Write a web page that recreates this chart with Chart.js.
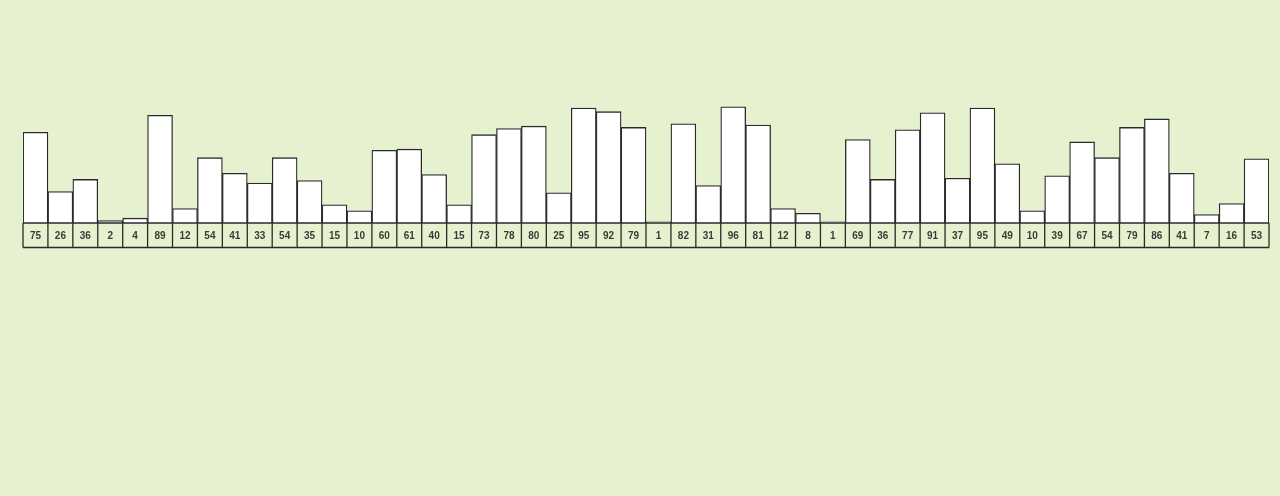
<!DOCTYPE html>
<html>
<head>
<meta charset="utf-8">
<style>
  html, body { margin: 0; padding: 0; background: #e6f1d0; }
  #wrap { width: 1280px; height: 496px; }
</style>
<script src="https://cdn.jsdelivr.net/npm/chart.js@4/dist/chart.umd.min.js"></script>
</head>
<body>
<div id="wrap"><canvas id="c" width="1280" height="496"></canvas></div>
<script>
const values = [75,26,36,2,4,89,12,54,41,33,54,35,15,10,60,61,40,15,73,78,80,25,95,92,79,1,82,31,96,81,12,8,1,69,36,77,91,37,95,49,10,39,67,54,79,86,41,7,16,53];
const categories = values.map(v => String(v));
const yTicks = [0, 100];

const labelBoxes = {
  id: 'labelBoxes',
  afterDatasetsDraw(chart) {
    const ctx = chart.ctx;
    const xs = chart.scales.x;
    const ys = chart.scales.y;
    const base = ys.getPixelForValue(0);
    const h = 24.5;
    const n = categories.length;
    const step = xs.getPixelForValue(1) - xs.getPixelForValue(0);
    const left = xs.getPixelForValue(0) - step / 2;
    const right = xs.getPixelForValue(n - 1) + step / 2;
    ctx.save();
    ctx.strokeStyle = '#2a2a2a';
    ctx.lineWidth = 1.3;
    ctx.beginPath();
    ctx.moveTo(left, base); ctx.lineTo(right, base);
    ctx.moveTo(left, base + h); ctx.lineTo(right, base + h);
    for (let i = 0; i <= n; i++) {
      const x = xs.getPixelForValue(0) + (i - 0.5) * step;
      ctx.moveTo(x, base); ctx.lineTo(x, base + h);
    }
    ctx.stroke();
    ctx.fillStyle = '#3a3a3a';
    ctx.font = 'bold 10px "Liberation Sans", Arial, sans-serif';
    ctx.textAlign = 'center';
    ctx.textBaseline = 'middle';
    for (let i = 0; i < n; i++) {
      ctx.fillText(categories[i], xs.getPixelForValue(i), base + h / 2 + 1);
    }
    ctx.restore();
  }
};

new Chart(document.getElementById('c'), {
  type: 'bar',
  data: {
    labels: categories,
    datasets: [{
      data: values,
      backgroundColor: '#ffffff',
      borderColor: '#2a2a2a',
      borderWidth: 1.3,
      barPercentage: 1,
      categoryPercentage: 1
    }]
  },
  options: {
    responsive: false,
    animation: false,
    layout: { padding: { left: 23, right: 11, top: 102, bottom: 273 } },
    plugins: { legend: { display: false }, tooltip: { enabled: false } },
    scales: {
      x: { display: false },
      y: { display: false, min: yTicks[0], max: yTicks[1] }
    }
  },
  plugins: [labelBoxes]
});
</script>
</body>
</html>
